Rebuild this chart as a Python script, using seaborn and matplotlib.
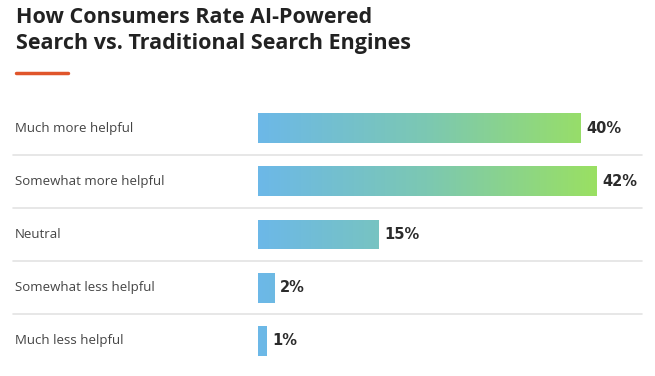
import matplotlib.pyplot as plt
import numpy as np
import pandas as pd
import seaborn as sns
from matplotlib.colors import LinearSegmentedColormap
from matplotlib.transforms import blended_transform_factory

categories = ["Much more helpful", "Somewhat more helpful", "Neutral", "Somewhat less helpful", "Much less helpful"]
values = [40, 42, 15, 2, 1]
value_labels = ["40%", "42%", "15%", "2%", "1%"]
title = "How Consumers Rate AI-Powered\nSearch vs. Traditional Search Engines"

df = pd.DataFrame({"category": categories, "value": values})

sns.set_style("white")
plt.rcParams["font.family"] = ["Open Sans", "DejaVu Sans"]

fig = plt.figure(figsize=(6.55, 3.76), dpi=100)
ax = fig.add_axes([258 / 655, 8.4 / 376, (642 - 258) / 655, 266.2 / 376])

sns.barplot(data=df, y="category", x="value", order=categories, width=0.56, color="#6cb8e8", ax=ax)

# gradient fill clipped to each bar, scaled on the data axis (blue at 0 -> green at 42)
cmap = LinearSegmentedColormap.from_list("bg", ["#6cb8e8", "#7cc8b2", "#9ae062"])
grad = np.linspace(0, 1, 256).reshape(1, -1)
for bar in ax.patches:
    y0 = bar.get_y()
    h = bar.get_height()
    im = ax.imshow(grad, cmap=cmap, aspect="auto", extent=[0, 42, y0 + h, y0], zorder=bar.get_zorder() + 0.1)
    im.set_clip_path(bar)

ax.set_xlim(0, 47.7)
ax.set_ylim(4.5, -0.5)
ax.set_xticks([])
ax.set_yticks([])
ax.set_xlabel("")
ax.set_ylabel("")
sns.despine(ax=ax, left=True, bottom=True)

for bar, lab in zip(ax.patches, value_labels):
    ax.text(bar.get_width() + 0.75, bar.get_y() + bar.get_height() / 2, lab, va="center", ha="left",
            fontsize=10.5, fontweight="bold", color="#2b2b2b", family="DejaVu Sans")

trans = blended_transform_factory(fig.transFigure, ax.transData)
for i, cat in enumerate(categories):
    ax.text(15 / 655, i, cat, transform=trans, va="center", ha="left", fontsize=9.5, color="#444444", clip_on=False)
for y in [0.5, 1.5, 2.5, 3.5]:
    ax.plot([13 / 655, 642 / 655], [y, y], transform=trans, color="#e3e3e3", lw=1.2, clip_on=False)

fig.text(16 / 655, 1 - 7 / 376, title, va="top", ha="left", fontsize=15.5, fontweight="bold",
         color="#222222", linespacing=1.3)
fig.add_artist(plt.Line2D([16 / 655, 68 / 655], [1 - 72.5 / 376] * 2, color="#e0552b", lw=2.5))

fig.savefig("out.png", dpi=100, facecolor="white")
